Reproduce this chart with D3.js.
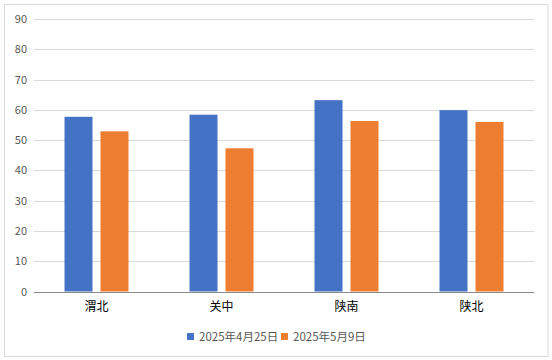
<!DOCTYPE html>
<html><head><meta charset="utf-8">
<script src="https://cdn.jsdelivr.net/npm/d3@7"></script>
<style>body{margin:0;background:#fff}svg{display:block}</style>
</head><body>
<svg id="c" width="552" height="360"></svg>
<script>
const categories = ["渭北", "关中", "陕南", "陕北"];
const seriesNames = ["2025年4月25日", "2025年5月9日"];
const seriesA = [57.7, 58.4, 63.2, 59.9];
const seriesB = [52.9, 47.3, 56.3, 56.0];
const yTicks = [0, 10, 20, 30, 40, 50, 60, 70, 80, 90];
const colors = ["#4472C4", "#ED7D31"];

const svg = d3.select("#c");
const font = "'Microsoft YaHei','Noto Sans CJK SC','Liberation Sans',sans-serif";
svg.append("rect").attr("x", 4.5).attr("y", 4.5).attr("width", 543.5).attr("height", 352)
  .attr("fill", "#fff").attr("stroke", "#d9d9d9").attr("stroke-width", 1);

const pL = 34, pR = 534, pT = 19, pB = 291.5;
const x = d3.scaleBand().domain(categories).range([pL, pR]);
const y = d3.scaleLinear().domain([0, 90]).range([pB, pT]);
const xs = d3.scaleBand().domain([0, 1]).range([-32, 32]).paddingInner(0.222);

const grid = svg.append("g");
grid.selectAll("line").data(yTicks.filter(t => t > 0)).join("line")
  .attr("x1", pL).attr("x2", pR)
  .attr("y1", d => Math.round(y(d)) + 0.5).attr("y2", d => Math.round(y(d)) + 0.5)
  .attr("stroke", "#d9d9d9").attr("stroke-width", 1);

const yAxis = d3.axisLeft(y).tickValues(yTicks).tickSize(0).tickPadding(7);
const ga = svg.append("g").attr("transform", `translate(${pL},0)`).call(yAxis);
ga.select(".domain").remove();
ga.selectAll("text").attr("fill", "#595959").style("font-family", font).style("font-size", "11px");

const data = categories.map((c, i) => ({c, v: [seriesA[i], seriesB[i]]}));
const groups = svg.append("g").selectAll("g").data(data).join("g")
  .attr("transform", d => `translate(${x(d.c) + x.bandwidth() / 2},0)`);
groups.selectAll("rect").data(d => d.v.map((v, k) => ({v, k}))).join("rect")
  .attr("x", d => xs(d.k)).attr("width", xs.bandwidth())
  .attr("y", d => y(d.v)).attr("height", d => y(0) - y(d.v))
  .attr("fill", d => colors[d.k]);

svg.append("line").attr("x1", pL).attr("x2", pR)
  .attr("y1", Math.round(y(0)) + 0.5).attr("y2", Math.round(y(0)) + 0.5)
  .attr("stroke", "#898989").attr("stroke-width", 1);

const xAxis = d3.axisBottom(x).tickSize(0).tickPadding(11);
const gx = svg.append("g").attr("transform", `translate(0,${y(0)})`).call(xAxis);
gx.select(".domain").remove();
gx.selectAll("text").attr("fill", "#000").style("font-family", font).style("font-size", "12px");

const legend = svg.append("g").attr("transform", "translate(187,337)");
const lx = [0, 94];
seriesNames.forEach((n, i) => {
  const g = legend.append("g").attr("transform", `translate(${lx[i]},0)`);
  g.append("rect").attr("x", 0).attr("y", -4).attr("width", 7).attr("height", 7).attr("fill", colors[i]);
  g.append("text").attr("x", 12).attr("y", 0).attr("dy", "0.35em").text(n)
    .attr("fill", "#595959").style("font-family", font).style("font-size", "11.5px");
});
</script>
</body></html>
